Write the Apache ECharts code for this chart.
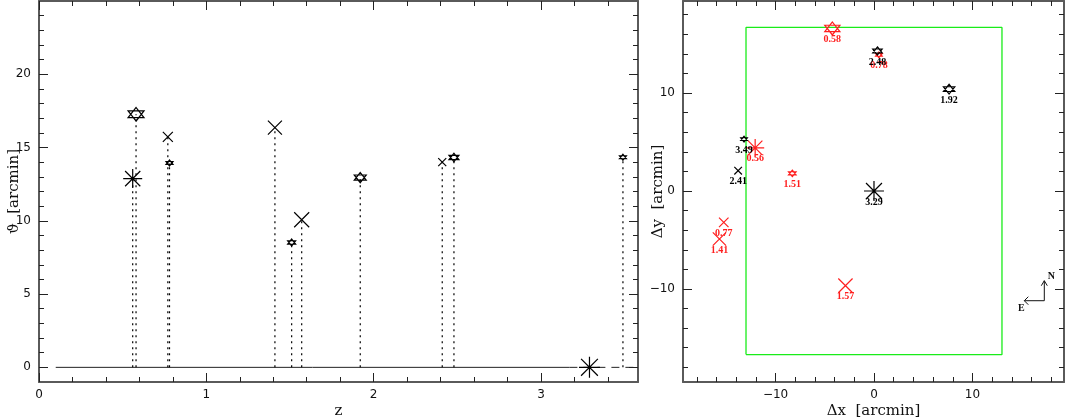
<!DOCTYPE html>
<html>
<head>
<meta charset="utf-8">
<script src="https://cdn.jsdelivr.net/npm/echarts@6/dist/echarts.min.js"></script>
<style>
html,body{margin:0;padding:0;background:#fff;}
#chart{width:1066px;height:419px;}
</style>
</head>
<body>
<div id="chart"></div>
<script>
// ---- data (one entry per object) ----
const zVals   = [0.56, 0.58, 0.77, 0.78, 1.41, 1.51, 1.57, 1.92, 2.41, 2.48, 3.49, 3.29];
const theta   = [12.88, 17.27, 15.73, 13.95, 16.36, 8.52, 10.07, 12.95, 14.0, 14.32, 14.34, 0];
const dx      = [-12.07, -4.23, -15.26, 0.5, -15.7, -8.3, -2.9, 7.63, -13.8, 0.35, -13.2, 0];
const dy      = [4.4, 16.6, -3.2, 13.9, -4.9, 1.8, -9.66, 10.4, 2.07, 14.3, 5.3, 0];
const kind    = ['aster','star','cross','star','cross','star','cross','star','cross','star','star','aster'];
// field box (arcmin)
const boxX = [-13.0, 13.0];
const boxY = [-16.7, 16.7];
// compass anchor (arcmin)
const compassAt = [[17.3, -11.2]];
// baseline segments (z)
const baseSolid  = [0.1, 3.17];
const baseDashed = [3.17, 3.58];
// ticks
const lxMajor = [0, 1, 2, 3];
const lxMinor = [0.2,0.4,0.6,0.8,1.2,1.4,1.6,1.8,2.2,2.4,2.6,2.8,3.2,3.4];
const lyMajor = [0, 5, 10, 15, 20];
const lyMinor = [1,2,3,4,6,7,8,9,11,12,13,14,16,17,18,19,21,22,23,24];
const rMajor  = [-10, 0, 10];
const rMinor  = [-18,-16,-14,-12,-8,-6,-4,-2,2,4,6,8,12,14,16,18];

// ---- styles ----
const markSize = [19, 16, 10, 7, 14, 8, 15, 12, 8, 10, 7, 21];
const SYM = {
  star:  'path://M0,-10L8.66,5L-8.66,5Z M0,10L8.66,-5L-8.66,-5Z',
  cross: 'path://M-10,-10L10,10M10,-10L-10,10',
  aster: 'path://M0,-10L0,10M-10,0L10,0M-8,-8L8,8M8,-8L-8,8'
};
const RED = '#ff1f1f', BLK = '#000';
const colorOf = i => zVals[i] < 1.8 ? RED : BLK;
const sizeOf = (i, f) => kind[i] === 'star' ? [markSize[i]*f, markSize[i]*f*0.85] : markSize[i]*f;

const FRAME = '#5a5a5a';
const tickFont = {fontFamily:'DejaVu Sans', fontSize:12, color:'#111'};
const nameFont = {fontFamily:'DejaVu Serif', fontSize:15, color:'#111'};
const fmt = v => String(v).replace('-', '\u2212');

function axisSet(grid, dim, min, max, major, minor, name, nameGap, labelMargin) {
  const pos = dim === 'x' ? ['bottom','top'] : ['left','right'];
  const base = {type:'value', gridIndex:grid, min:min, max:max, splitLine:{show:false}, scale:false};
  const mk = (p, vals, len, isMain, showLabel) => Object.assign({}, base, {
    position:p,
    axisLine:{show:isMain, onZero:false, lineStyle:{color:FRAME, width:2}},
    axisTick:{show:true, inside:true, length:len, customValues:vals, lineStyle:{color:'#222', width:1}},
    axisLabel:{show:showLabel, customValues:major, margin:labelMargin, formatter:fmt, ...tickFont},
    name: showLabel ? name : '',
    nameLocation:'middle', nameGap:nameGap, nameTextStyle:nameFont, nameMoveOverlap:false
  });
  return [
    mk(pos[0], major, 9, true, true),
    mk(pos[0], minor, 5, false, false),
    mk(pos[1], major, 9, true, false),
    mk(pos[1], minor, 5, false, false)
  ];
}

const xAxes = [].concat(
  axisSet(0, 'x', 0, 3.58, lxMajor, lxMinor, 'z', 22, 7),
  axisSet(1, 'x', -19.4, 19.3, rMajor, rMinor, '\u0394x  [arcmin]', 22, 7)
);
const yAxes = [].concat(
  axisSet(0, 'y', -1, 25, lyMajor, lyMinor, '\u03D1  [arcmin]', 17, 8),
  axisSet(1, 'y', -19.5, 19.4, rMajor, rMinor, '\u0394y  [arcmin]', 17, 8)
);

const idx = zVals.map((_, i) => i);

const series = [
  // baseline
  {type:'line', xAxisIndex:0, yAxisIndex:0, data:[[baseSolid[0],0],[baseSolid[1],0]], symbol:'none',
   lineStyle:{color:'#222', width:1}, silent:true, z:2},
  {type:'line', xAxisIndex:0, yAxisIndex:0, data:[[baseDashed[0],0],[baseDashed[1],0]], symbol:'none',
   lineStyle:{color:'#222', width:1, type:[8,6]}, silent:true, z:2},
  // dotted drop lines
  {type:'custom', xAxisIndex:0, yAxisIndex:0, silent:true, z:3,
   data: idx.map(i => [zVals[i], theta[i]]),
   renderItem: (params, api) => {
     const p0 = api.coord([api.value(0), 0]);
     const p1 = api.coord([api.value(0), api.value(1)]);
     return {type:'line', shape:{x1:p0[0], y1:p0[1], x2:p1[0], y2:p1[1]},
             style:{stroke:'#000', lineWidth:1.2, lineDash:[2,4]}};
   }},
  // left markers
  {type:'scatter', xAxisIndex:0, yAxisIndex:0, z:5, silent:true,
   data: idx.map(i => ({value:[zVals[i], theta[i]], symbol:SYM[kind[i]], symbolSize:sizeOf(i,1),
                        itemStyle:{color:'none', borderColor:BLK, borderWidth:1.2, opacity:1}}))},
  // field box
  {type:'line', xAxisIndex:4, yAxisIndex:4, symbol:'none', silent:true, z:2,
   data:[[boxX[0],boxY[0]],[boxX[1],boxY[0]],[boxX[1],boxY[1]],[boxX[0],boxY[1]],[boxX[0],boxY[0]]],
   lineStyle:{color:'#19ec19', width:1.3}},
  // right markers
  {type:'scatter', xAxisIndex:4, yAxisIndex:4, z:5, silent:true,
   data: idx.map(i => ({value:[dx[i], dy[i]], symbol:SYM[kind[i]], symbolSize:sizeOf(i,0.95),
                        itemStyle:{color:'none', borderColor:colorOf(i), borderWidth:1.2, opacity:1},
                        label:{show:true, formatter:zVals[i].toFixed(2), position:'inside', offset:[0,11],
                               color:colorOf(i), fontFamily:'Liberation Serif', fontSize:10, fontWeight:'bold'}}))},
  // compass
  {type:'custom', xAxisIndex:4, yAxisIndex:4, silent:true, z:4, data:compassAt,
   renderItem: (params, api) => {
     const c = api.coord([api.value(0), api.value(1)]);
     const x = c[0], y = c[1];
     const st = {stroke:'#111', lineWidth:1, fill:null};
     return {type:'group', children:[
       {type:'polyline', shape:{points:[[x-20,y],[x,y],[x,y-20]]}, style:st},
       {type:'polyline', shape:{points:[[x-3,y-15],[x,y-20],[x+3,y-15]]}, style:st},
       {type:'polyline', shape:{points:[[x-16,y-4],[x-20,y],[x-16,y+4]]}, style:st},
       {type:'text', style:{text:'N', x:x+7, y:y-24, align:'center', verticalAlign:'middle',
         font:'bold 10px "Liberation Serif"', fill:'#111'}},
       {type:'text', style:{text:'E', x:x-23, y:y+8, align:'center', verticalAlign:'middle',
         font:'bold 10px "Liberation Serif"', fill:'#111'}}
     ]};
   }}
];

const chart = echarts.init(document.getElementById('chart'), null, {renderer:'canvas'});
chart.setOption({
  animation:false,
  backgroundColor:'#fff',
  grid:[
    {left:39, top:1, width:599, height:381, containLabel:false, outerBoundsMode:'none'},
    {left:683, top:1, width:381, height:381, containLabel:false, outerBoundsMode:'none'}
  ],
  xAxis:xAxes,
  yAxis:yAxes,
  series:series
});
</script>
</body>
</html>
